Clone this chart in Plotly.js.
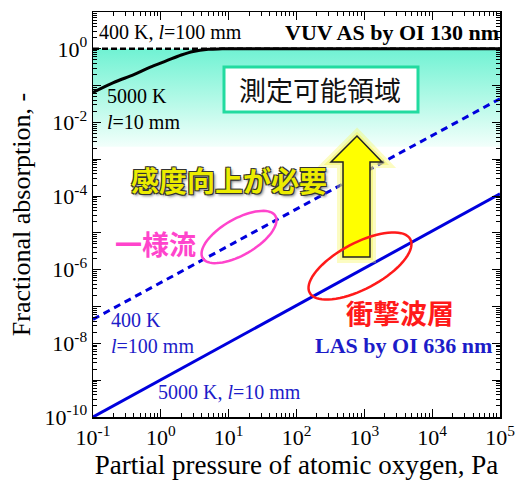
<!DOCTYPE html>
<html>
<head>
<meta charset="utf-8">
<script src="https://cdn.plot.ly/plotly-3.0.1.min.js"></script>
<style>html,body{margin:0;padding:0;background:#fff;}#chart{width:516px;height:484px;}</style>
</head>
<body>
<div id="chart"></div>
<script>
// ---- data ----
const pressureLine = [0.1, 1e5];
const vuv400K = [1, 1];                       // 400 K, l=100 mm, VUV (dashed black)
const pressure5000VUV = [0.1, 0.2, 0.4, 0.7, 1.2, 2, 3, 5, 8, 1e5];
const vuv5000K = [0.065, 0.12, 0.2, 0.32, 0.47, 0.68, 0.85, 0.97, 1.0, 1.0]; // 5000 K, l=10 mm
const las400K = [4.5e-8, 4.4e-2];             // 400 K, l=100 mm, LAS (dashed blue)
const las5000K = [1.0e-10, 1.15e-4];          // 5000 K, l=10 mm, LAS (solid blue)
const regionX = [0.1, 1e5, 1e5, 0.1];         // measurable region
const regionY = [1, 1, 2.2e-3, 2.2e-3];

const xTickVals = [0.1, 1, 10, 100, 1000, 1e4, 1e5];
const xTickText = ['10<sup>-1</sup>','10<sup>0</sup>','10<sup>1</sup>','10<sup>2</sup>','10<sup>3</sup>','10<sup>4</sup>','10<sup>5</sup>'];
const yTickVals = [1e-10,1e-9,1e-8,1e-7,1e-6,1e-5,1e-4,1e-3,1e-2,1e-1,1];
const yTickText = ['10<sup>-10</sup>',' ','10<sup>-8</sup>',' ','10<sup>-6</sup>',' ','10<sup>-4</sup>',' ','10<sup>-2</sup>',' ','10<sup>0</sup>'];

// ---- helpers for layout positions (pixel -> paper) ----
const L = 93, T = 12, W = 407, H = 405;
const px = x => (x - L) / W;
const py = y => (T + H - y) / H;

function minorVals(lo, hi) {
  const v = [];
  for (let e = lo; e < hi; e++) for (let m = 2; m <= 9; m++) v.push(m * Math.pow(10, e));
  return v;
}
function ellipsePath(cx, cy, a, b, deg) {
  const th = deg * Math.PI / 180; let d = '';
  for (let i = 0; i <= 72; i++) {
    const t = i / 72 * 2 * Math.PI;
    const X = cx + a * Math.cos(t) * Math.cos(th) - b * Math.sin(t) * Math.sin(th);
    const Y = cy - (a * Math.cos(t) * Math.sin(th) + b * Math.sin(t) * Math.cos(th));
    d += (i ? ' L ' : 'M ') + px(X).toFixed(4) + ' ' + py(Y).toFixed(4);
  }
  return d + ' Z';
}
function polyPath(pts) {
  return pts.map((p, i) => (i ? 'L ' : 'M ') + px(p[0]).toFixed(4) + ' ' + py(p[1]).toFixed(4)).join(' ') + ' Z';
}

const serif = 'Liberation Serif, Times New Roman, serif';
const jp = 'Noto Sans CJK JP, sans-serif';
const blue = '#0000dd';
const textBlue = '#1c1cc8';

const traces = [
  { x: regionX, y: regionY, mode: 'none', fill: 'toself', hoverinfo: 'skip',
    fillgradient: { type: 'vertical', colorscale: [[0, '#f2fffb'], [0.5, '#b0f9e6'], [1, '#70f2d3']] },
    showlegend: false },
  { x: pressureLine, y: vuv400K, mode: 'lines', line: { color: '#000', width: 2.5, dash: '6px,3px' } },
  { x: pressure5000VUV, y: vuv5000K, mode: 'lines', line: { color: '#000', width: 3, shape: 'spline' } },
  { x: pressureLine, y: las400K, mode: 'lines', line: { color: blue, width: 3, dash: '7px,5px' } },
  { x: pressureLine, y: las5000K, mode: 'lines', line: { color: blue, width: 3 } }
];

const arrowPts = [[357,136],[382,162],[370,162],[370,257],[343,257],[343,162],[331,162]];

const axisCommon = {
  type: 'log', showline: true, linecolor: '#000', linewidth: 1.5, mirror: 'ticks',
  ticks: 'inside', ticklen: 8, tickwidth: 1, tickcolor: '#000',
  showgrid: false, zeroline: false, tickmode: 'array',
  tickfont: { family: serif, size: 22, color: '#000' }
};

const layout = {
  width: 516, height: 484,
  margin: { l: L, r: 516 - L - W, t: T, b: 484 - T - H },
  paper_bgcolor: '#fff', plot_bgcolor: '#fff', showlegend: false,
  xaxis: Object.assign({}, axisCommon, {
    range: [-1, 5], tickvals: xTickVals, ticktext: xTickText,
    minor: { tickmode: 'array', tickvals: minorVals(-1, 5), ticks: 'inside', ticklen: 4, tickcolor: '#000', showgrid: false },
    title: { text: 'Partial pressure of atomic oxygen, Pa', font: { family: serif, size: 27, color: '#000' }, standoff: 6 }
  }),
  yaxis: Object.assign({}, axisCommon, {
    range: [-10, 1], tickvals: yTickVals, ticktext: yTickText,
    minor: { tickmode: 'array', tickvals: minorVals(-10, 1), ticks: 'inside', ticklen: 4, tickcolor: '#000', showgrid: false },
    title: { text: 'Fractional absorption, -', font: { family: serif, size: 26, color: '#000' }, standoff: 6 }
  }),
  shapes: [
    { type: 'rect', xref: 'paper', yref: 'paper', x0: px(224), x1: px(418), y0: py(112), y1: py(67),
      fillcolor: '#fff', line: { color: '#22dba0', width: 3 } },
    { type: 'path', xref: 'paper', yref: 'paper', path: polyPath(arrowPts),
      fillcolor: 'rgba(0,0,0,0)', line: { color: 'rgba(245,245,80,0.35)', width: 12 } },
    { type: 'path', xref: 'paper', yref: 'paper', path: polyPath(arrowPts),
      fillcolor: 'rgba(0,0,0,0)', line: { color: 'rgba(245,245,80,0.45)', width: 6 } },
    { type: 'path', xref: 'paper', yref: 'paper', path: polyPath(arrowPts),
      fillcolor: '#ffff00', line: { color: '#222', width: 1.5 } },
    { type: 'path', xref: 'paper', yref: 'paper', path: ellipsePath(239, 237, 42, 18, 30),
      line: { color: '#ff44cc', width: 2.5 } },
    { type: 'path', xref: 'paper', yref: 'paper', path: ellipsePath(360, 266, 57, 23, 28),
      line: { color: '#ff1a1a', width: 2.5 } }
  ],
  annotations: [
    { xref: 'paper', yref: 'paper', x: px(97), y: py(32), xanchor: 'left', yanchor: 'middle', showarrow: false,
      text: '400 K, <i>l</i>=100 mm', font: { family: serif, size: 20, color: '#000' } },
    { xref: 'paper', yref: 'paper', x: px(501), y: py(32), xanchor: 'right', yanchor: 'middle', showarrow: false,
      text: '<b>VUV AS by OI 130 nm</b>', font: { family: serif, size: 22, color: '#000' } },
    { xref: 'paper', yref: 'paper', x: px(105), y: py(109), xanchor: 'left', yanchor: 'middle', showarrow: false, align: 'left',
      text: '5000 K<br><i>l</i>=10 mm', font: { family: serif, size: 20, color: '#000' } },
    { xref: 'paper', yref: 'paper', x: px(320), y: py(90), xanchor: 'center', yanchor: 'middle', showarrow: false,
      text: '測定可能領域', font: { family: jp, size: 27, color: '#111' } },
    { xref: 'paper', yref: 'paper', x: px(129), y: py(180), xanchor: 'left', yanchor: 'middle', showarrow: false,
      text: '<b>感度向上が必要</b>',
      font: { family: jp, size: 28, color: '#ecec00',
        shadow: '-1px -1px 0 #333, 1px -1px 0 #333, -1px 1px 0 #333, 1px 1px 0 #333, 2px 2px 3px #777' } },
    { xref: 'paper', yref: 'paper', x: px(155), y: py(243), xanchor: 'center', yanchor: 'middle', showarrow: false,
      text: '<b>一様流</b>', font: { family: jp, size: 27, color: '#ff44cc' } },
    { xref: 'paper', yref: 'paper', x: px(400), y: py(313), xanchor: 'center', yanchor: 'middle', showarrow: false,
      text: '<b>衝撃波層</b>', font: { family: jp, size: 27, color: '#ff1a1a' } },
    { xref: 'paper', yref: 'paper', x: px(494), y: py(345), xanchor: 'right', yanchor: 'middle', showarrow: false,
      text: '<b>LAS by OI 636 nm</b>', font: { family: serif, size: 22, color: textBlue } },
    { xref: 'paper', yref: 'paper', x: px(109), y: py(333), xanchor: 'left', yanchor: 'middle', showarrow: false, align: 'left',
      text: '400 K<br><i>l</i>=100 mm', font: { family: serif, size: 20, color: textBlue } },
    { xref: 'paper', yref: 'paper', x: px(156), y: py(392), xanchor: 'left', yanchor: 'middle', showarrow: false,
      text: '5000 K, <i>l</i>=10 mm', font: { family: serif, size: 20, color: textBlue } }
  ]
};

Plotly.newPlot('chart', traces, layout, { staticPlot: true, displayModeBar: false });
</script>
</body>
</html>
